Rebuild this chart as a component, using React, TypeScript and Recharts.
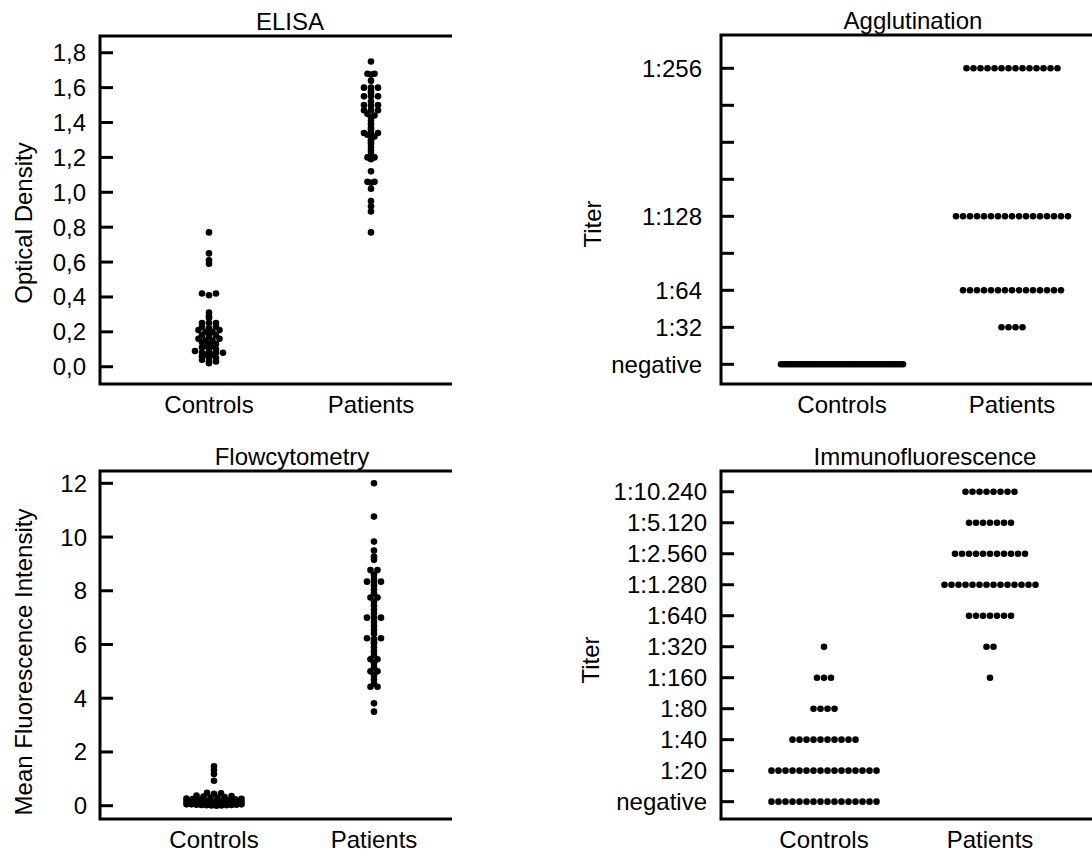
import React from 'react';
import { ScatterChart, Scatter, XAxis, YAxis, ReferenceArea } from 'recharts';

const groups = ['Controls', 'Patients'];

// ELISA optical density, one value per subject
const elisaControls = [
  0.77, 0.65, 0.61, 0.59, 0.42, 0.42, 0.41,
  0.31, 0.29, 0.28, 0.25, 0.25, 0.25,
  0.23, 0.23, 0.22, 0.21, 0.21, 0.2, 0.2, 0.19, 0.18, 0.18, 0.17, 0.16, 0.16,
  0.15, 0.15, 0.14, 0.13, 0.13, 0.12, 0.12, 0.11, 0.1, 0.1,
  0.09, 0.08, 0.08, 0.08, 0.08, 0.07, 0.07, 0.06,
  0.05, 0.05, 0.04, 0.03, 0.03, 0.02,
];
const elisaPatients = [
  1.75, 1.68, 1.68, 1.675, 1.64,
  1.6, 1.6, 1.6, 1.58, 1.57, 1.55, 1.55, 1.55,
  1.52, 1.5, 1.5, 1.495, 1.47, 1.47, 1.47, 1.45, 1.44,
  1.43, 1.41, 1.39, 1.37, 1.34, 1.34, 1.335, 1.33, 1.32, 1.3, 1.29, 1.28, 1.26, 1.24, 1.22,
  1.2, 1.2, 1.19, 1.12, 1.06, 1.06, 1.055, 1.02,
  0.95, 0.92, 0.89, 0.77, 1.36,
];
const elisaTicks = [0, 0.2, 0.4, 0.6, 0.8, 1.0, 1.2, 1.4, 1.6, 1.8];

// Flow cytometry mean fluorescence intensity
const flowControls = [
  1.47, 1.33, 1.18, 0.93,
  0.48, 0.46, 0.44,
  0.38, 0.36, 0.34, 0.32, 0.3, 0.29,
  0.27, 0.26, 0.25, 0.24, 0.22, 0.21, 0.2, 0.19, 0.18, 0.17,
  0.16, 0.15, 0.14, 0.13, 0.12, 0.11, 0.1, 0.1, 0.09, 0.09, 0.08, 0.08, 0.07, 0.07, 0.06,
  0.05, 0.05, 0.05, 0.04, 0.04, 0.03, 0.03, 0.02, 0.02, 0.01, 0.01, 0.0,
];
const flowPatients = [
  12.0, 10.76, 9.83, 9.5, 9.27, 9.15,
  8.77, 8.77, 8.6, 8.45, 8.34, 8.34, 8.34,
  8.2, 8.05, 7.9, 7.75, 7.75, 7.6, 7.45, 7.3, 7.15,
  7.0, 7.0, 7.0, 6.85, 6.7, 6.55, 6.4,
  6.23, 6.23, 6.2, 6.1, 6.05, 5.9, 5.75, 5.6, 5.45, 5.45, 5.3, 5.15, 5.0, 5.0, 4.85, 4.7, 4.55,
  4.43, 4.43, 3.81, 3.5,
];
const flowTicks = [0, 2, 4, 6, 8, 10, 12];

// Agglutination titers: number of subjects per level
const agglutLevels = ['negative', '1:32', '1:64', '', '1:128', '', '', '', '1:256'];
const agglutControls = [50, 0, 0, 0, 0, 0, 0, 0, 0];
const agglutPatients = [0, 4, 15, 0, 17, 0, 0, 0, 14];

// Immunofluorescence titers: number of subjects per level
const immunoLevels = ['negative', '1:20', '1:40', '1:80', '1:160', '1:320', '1:640', '1:1.280', '1:2.560', '1:5.120', '1:10.240'];
const immunoControls = [16, 16, 10, 4, 3, 1, 0, 0, 0, 0, 0];
const immunoPatients = [0, 0, 0, 0, 1, 2, 7, 14, 11, 7, 8];

type Pt = { x: number; y: number };
type Box = { l: number; t: number; r: number; b: number };

const FONT = '"Liberation Sans", Arial, Helvetica, sans-serif';

// dot-plot layout: values that land in the same small band are set side by side,
// centred on the column, lowest one in the middle; a wide band is squeezed
function dotRows(values: number[], cat: number, pxX: number, pxY: number, band: number, maxW: number): Pt[] {
  const bins = new Map<number, number[]>();
  values.forEach((v) => {
    const k = Math.round((v * pxY) / band);
    if (!bins.has(k)) bins.set(k, []);
    bins.get(k)!.push(v);
  });
  const pts: Pt[] = [];
  bins.forEach((vs) => {
    const n = vs.length;
    const step = n > 1 ? Math.min(7, maxW / (n - 1)) : 0;
    const slots = vs.map((_, k) => (k - (n - 1) / 2) * step).sort((a, b) => Math.abs(a) - Math.abs(b) || b - a);
    [...vs].sort((a, b) => a - b).forEach((v, k) => pts.push({ x: cat + slots[k] / pxX, y: v }));
  });
  return pts;
}

const expand = (counts: number[]) => counts.flatMap((n, level) => new Array(n).fill(level) as number[]);

const Dot = (p: any) => <circle cx={p.cx} cy={p.cy} r={3.3} fill="#000" />;

const tickStyle = { fontSize: 24, fill: '#000', fontFamily: FONT };

interface PanelProps {
  left: number;
  top: number;
  width: number;
  height: number;
  clip: number;
  box: Box;
  xDomain: [number, number];
  yDomain: [number, number];
  yTicks: number[];
  yFormat: (v: number) => string;
  tickMargin: number;
  series: Pt[][];
}

const Panel: React.FC<PanelProps> = ({ left, top, width, height, clip, box, xDomain, yDomain, yTicks, yFormat, tickMargin, series }) => (
  <div style={{ position: 'absolute', left, top, width: clip, height, overflow: 'hidden' }}>
    <ScatterChart
      width={width}
      height={height}
      margin={{ top: box.t - top, left: 0, right: left + width - box.r, bottom: top + height - box.b - 40 }}
    >
      <XAxis
        type="number"
        dataKey="x"
        domain={xDomain}
        ticks={[1, 2]}
        interval={0}
        tickFormatter={(v: number) => groups[v - 1]}
        axisLine={false}
        tickLine={false}
        tickSize={0}
        tickMargin={12}
        height={40}
        allowDataOverflow
        tick={tickStyle}
      />
      <YAxis
        type="number"
        dataKey="y"
        domain={yDomain}
        ticks={yTicks}
        interval={0}
        tickFormatter={yFormat}
        width={box.l - left}
        axisLine={false}
        tickLine={{ stroke: '#000', strokeWidth: 3 }}
        tickSize={-13}
        tickMargin={tickMargin}
        allowDataOverflow
        tick={tickStyle}
      />
      <ReferenceArea
        x1={xDomain[0]}
        x2={xDomain[1]}
        y1={yDomain[0]}
        y2={yDomain[1]}
        fill="none"
        stroke="#000"
        strokeWidth={3}
        strokeOpacity={1}
        ifOverflow="visible"
      />
      {series.map((s, i) => (
        <Scatter key={i} data={s} shape={Dot} isAnimationActive={false} />
      ))}
    </ScatterChart>
  </div>
);

// panel geometry (figure pixels) and axis ranges
const elisaBox: Box = { l: 100, t: 36, r: 480, b: 384 };
const elisaX: [number, number] = [0.3272, 2.6729];
const elisaY: [number, number] = [-0.099, 1.896];

const flowBox: Box = { l: 100, t: 471, r: 485, b: 819 };
const flowX: [number, number] = [0.2875, 2.6938];
const flowY: [number, number] = [-0.495, 12.458];

const agglutBox: Box = { l: 721, t: 35, r: 1138, b: 384 };
const agglutX: [number, number] = [0.2882, 2.7412];
const agglutY: [number, number] = [-0.532, 8.9];

const immunoBox: Box = { l: 721, t: 471, r: 1123, b: 819 };
const immunoX: [number, number] = [0.3795, 2.8012];
const immunoY: [number, number] = [-0.56, 10.67];

const pxX = (b: Box, d: [number, number]) => (b.r - b.l) / (d[1] - d[0]);
const pxY = (b: Box, d: [number, number]) => (b.b - b.t) / (d[1] - d[0]);

const App: React.FC = () => {
  const ex = pxX(elisaBox, elisaX);
  const ey = pxY(elisaBox, elisaY);
  const fx = pxX(flowBox, flowX);
  const fy = pxY(flowBox, flowY);
  const ax = pxX(agglutBox, agglutX);
  const ay = pxY(agglutBox, agglutY);
  const ix = pxX(immunoBox, immunoX);
  const iy = pxY(immunoBox, immunoY);

  const labels = [
    { text: 'ELISA', x: 290, y: 30, rot: false },
    { text: 'Agglutination', x: 913, y: 29, rot: false },
    { text: 'Flowcytometry', x: 292, y: 465, rot: false },
    { text: 'Immunofluorescence', x: 925, y: 465, rot: false },
    { text: 'Optical Density', x: 23, y: 223, rot: true },
    { text: 'Mean Fluorescence Intensity', x: 23, y: 662, rot: true },
    { text: 'Titer', x: 592, y: 224, rot: true },
    { text: 'Titer', x: 590, y: 660, rot: true },
  ];

  return (
    <div style={{ position: 'fixed', left: 0, top: 0, width: 1092, height: 856, overflow: 'hidden', background: '#fff' }}>
      <Panel
        left={0}
        top={0}
        width={540}
        height={428}
        clip={452}
        box={elisaBox}
        xDomain={elisaX}
        yDomain={elisaY}
        yTicks={elisaTicks}
        yFormat={(v) => v.toFixed(1).replace('.', ',')}
        tickMargin={27}
        series={[dotRows(elisaControls, 1, ex, ey, 3, 40), dotRows(elisaPatients, 2, ex, ey, 3, 40)]}
      />
      <Panel
        left={0}
        top={428}
        width={540}
        height={428}
        clip={452}
        box={flowBox}
        xDomain={flowX}
        yDomain={flowY}
        yTicks={flowTicks}
        yFormat={(v) => String(v)}
        tickMargin={26}
        series={[dotRows(flowControls, 1, fx, fy, 3, 55), dotRows(flowPatients, 2, fx, fy, 3, 55)]}
      />
      <Panel
        left={600}
        top={0}
        width={560}
        height={428}
        clip={492}
        box={agglutBox}
        xDomain={agglutX}
        yDomain={agglutY}
        yTicks={agglutLevels.map((_, i) => i)}
        yFormat={(v) => agglutLevels[v]}
        tickMargin={32}
        series={[dotRows(expand(agglutControls), 1, ax, ay, 3, 122), dotRows(expand(agglutPatients), 2, ax, ay, 3, 122)]}
      />
      <Panel
        left={600}
        top={428}
        width={560}
        height={428}
        clip={492}
        box={immunoBox}
        xDomain={immunoX}
        yDomain={immunoY}
        yTicks={immunoLevels.map((_, i) => i)}
        yFormat={(v) => immunoLevels[v]}
        tickMargin={27}
        series={[dotRows(expand(immunoControls), 1, ix, iy, 3, 122), dotRows(expand(immunoPatients), 2, ix, iy, 3, 122)]}
      />
      <svg width={1092} height={856} style={{ position: 'absolute', left: 0, top: 0, pointerEvents: 'none' }}>
        {labels.map((l, i) =>
          l.rot ? (
            <text
              key={i}
              x={l.x}
              y={l.y}
              transform={`rotate(-90 ${l.x} ${l.y})`}
              textAnchor="middle"
              dominantBaseline="central"
              fontSize={24}
              fontFamily={FONT}
              fill="#000"
            >
              {l.text}
            </text>
          ) : (
            <text key={i} x={l.x} y={l.y} textAnchor="middle" fontSize={24} fontFamily={FONT} fill="#000">
              {l.text}
            </text>
          ),
        )}
      </svg>
    </div>
  );
};

export default App;
